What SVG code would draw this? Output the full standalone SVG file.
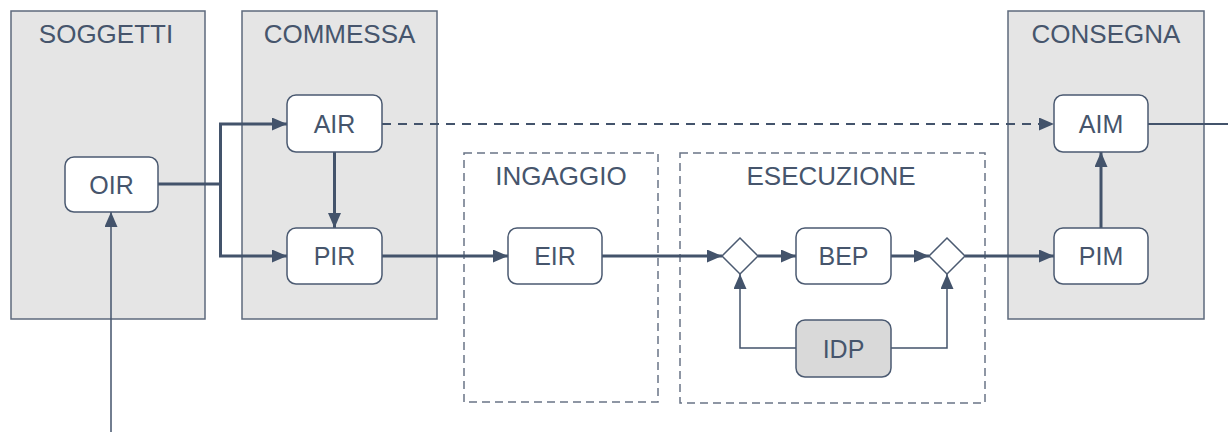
<svg xmlns="http://www.w3.org/2000/svg" width="1228" height="432" viewBox="0 0 1228 432">
  <style>
    .lane { fill: #e5e5e5; stroke: #5d697c; stroke-width: 1.5; }
    .phase { fill: none; stroke: #6a7486; stroke-width: 1.5; stroke-dasharray: 8 5; }
    .title { font-family: "Liberation Sans", Arial, sans-serif; font-size: 26px; fill: #46556c; text-anchor: middle; }
    .node rect { fill: #ffffff; stroke: #4b5a71; stroke-width: 1.5; }
    .node.grey rect { fill: #d9d9d9; }
    .node text { font-family: "Liberation Sans", Arial, sans-serif; font-size: 25px; fill: #46556c; text-anchor: middle; }
    .gate { fill: #ffffff; stroke: #4b5a71; stroke-width: 1.5; }
    .flow { fill: none; stroke: #43536b; stroke-linejoin: miter; }
    .thick { stroke-width: 3; }
    .thin { stroke-width: 1.5; }
    .mid { stroke-width: 2; }
    .dash { stroke-dasharray: 9 7; }
  </style>
  <defs>
    <marker id="arrow" markerUnits="userSpaceOnUse" markerWidth="16" markerHeight="14" refX="15" refY="6.5" orient="auto">
      <path d="M0,0 L15,6.5 L0,13 z" fill="#43536b"/>
    </marker>
  </defs>

  <!-- swimlanes -->
  <g id="lane-soggetti">
    <rect class="lane" x="11" y="11" width="194" height="308"/>
    <text class="title" x="106" y="43">SOGGETTI</text>
  </g>
  <g id="lane-commessa">
    <rect class="lane" x="242" y="11" width="195" height="308"/>
    <text class="title" x="339.5" y="43">COMMESSA</text>
  </g>
  <g id="lane-consegna">
    <rect class="lane" x="1008" y="11" width="196" height="308"/>
    <text class="title" x="1106" y="43">CONSEGNA</text>
  </g>

  <!-- phases -->
  <g id="phase-ingaggio">
    <rect class="phase" x="464" y="153" width="194" height="249"/>
    <text class="title" x="561" y="185">INGAGGIO</text>
  </g>
  <g id="phase-esecuzione">
    <rect class="phase" x="680" y="153" width="305" height="250"/>
    <text class="title" x="831" y="185">ESECUZIONE</text>
  </g>

  <!-- connectors -->
  <g id="connectors">
    <path class="flow thin" d="M111,432 V212" marker-end="url(#arrow)"/>
    <path class="flow thick" d="M158,184 H220.5"/>
    <path class="flow thick" d="M220.5,184 V124 H287" marker-end="url(#arrow)"/>
    <path class="flow thick" d="M220.5,184 V256 H287" marker-end="url(#arrow)"/>
    <path class="flow thick" d="M334.5,152 V228" marker-end="url(#arrow)"/>
    <path class="flow mid dash" d="M382,124 H1054" marker-end="url(#arrow)"/>
    <path class="flow thick" d="M382,256 H508" marker-end="url(#arrow)"/>
    <path class="flow thick" d="M602,256 H722" marker-end="url(#arrow)"/>
    <path class="flow thick" d="M758,256 H796" marker-end="url(#arrow)"/>
    <path class="flow thick" d="M891,256 H929" marker-end="url(#arrow)"/>
    <path class="flow thick" d="M965,256 H1054" marker-end="url(#arrow)"/>
    <path class="flow thick" d="M1101,228 V152" marker-end="url(#arrow)"/>
    <path class="flow mid" d="M1148,124 H1228"/>
    <path class="flow thin" d="M796,348 H740 V274" marker-end="url(#arrow)"/>
    <path class="flow thin" d="M891,348 H947 V274" marker-end="url(#arrow)"/>
  </g>

  <!-- nodes -->
  <g id="node-oir" class="node">
    <rect x="65" y="157" width="93" height="55" rx="9"/>
    <text x="111.5" y="193.5">OIR</text>
  </g>
  <g id="node-air" class="node">
    <rect x="287" y="95" width="95" height="57" rx="9"/>
    <text x="334.5" y="133">AIR</text>
  </g>
  <g id="node-pir" class="node">
    <rect x="287" y="228" width="95" height="56" rx="9"/>
    <text x="334.5" y="265">PIR</text>
  </g>
  <g id="node-eir" class="node">
    <rect x="508" y="228" width="94" height="56" rx="9"/>
    <text x="555" y="265">EIR</text>
  </g>
  <g id="gate-in">
    <path class="gate" d="M740,238 L758,256 L740,274 L722,256 z"/>
  </g>
  <g id="node-bep" class="node">
    <rect x="796" y="228" width="95" height="56" rx="9"/>
    <text x="843.5" y="265">BEP</text>
  </g>
  <g id="gate-out">
    <path class="gate" d="M947,238 L965,256 L947,274 L929,256 z"/>
  </g>
  <g id="node-idp" class="node grey">
    <rect x="796" y="320" width="95" height="57" rx="9"/>
    <text x="843.5" y="357.5">IDP</text>
  </g>
  <g id="node-aim" class="node">
    <rect x="1054" y="95" width="94" height="57" rx="9"/>
    <text x="1101" y="133">AIM</text>
  </g>
  <g id="node-pim" class="node">
    <rect x="1054" y="228" width="94" height="56" rx="9"/>
    <text x="1101" y="265">PIM</text>
  </g>
</svg>
